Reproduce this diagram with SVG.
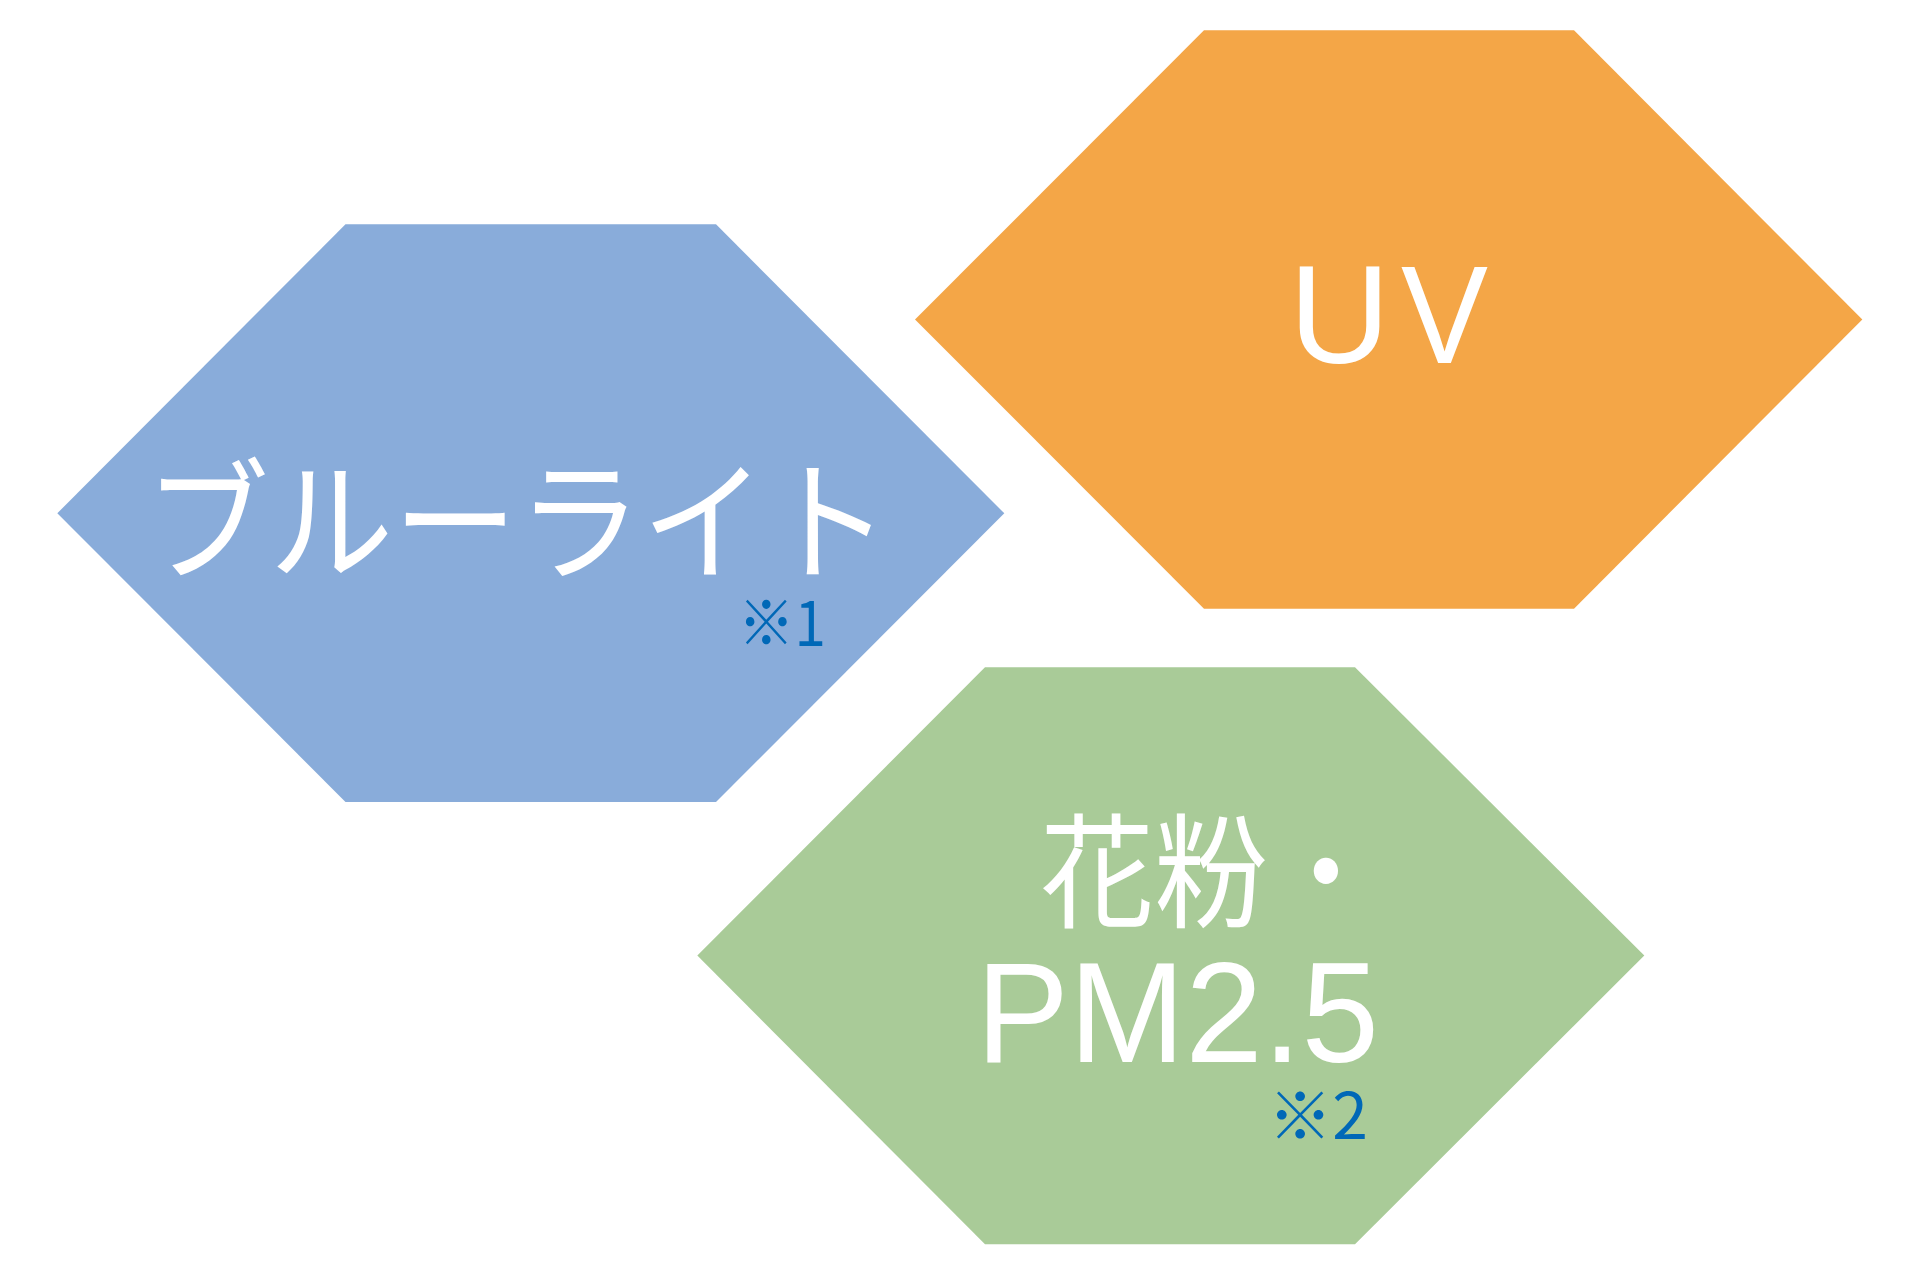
<svg xmlns="http://www.w3.org/2000/svg" width="1920" height="1280" viewBox="0 0 1920 1280">
<style>
.jp{font-family:"Noto Sans CJK JP","Noto Sans",sans-serif;fill:#fff}
.lat{font-family:"Liberation Sans",Arial,sans-serif;fill:#fff}
.note{font-family:"Noto Sans CJK JP","Noto Sans",sans-serif;fill:#0068B7}
</style>
<rect width="1920" height="1280" fill="#fff"/>
<g id="bluelight">
<polygon points="345.5,224.3 716,224.3 1004.3,513.3 716,802 345.5,802 57.3,513.3" fill="#89ACDA"/>
<text class="jp" x="145" y="570" font-size="132" textLength="745" lengthAdjust="spacingAndGlyphs">ブルーライト</text>
<text class="note" x="738" y="646" font-size="62" textLength="88" lengthAdjust="spacingAndGlyphs">※1</text>
</g>
<g id="uv">
<polygon points="1204,30.3 1574,30.3 1862.3,319.5 1574,608.7 1204,608.7 915,319.5" fill="#F4A647"/>
<text class="lat" x="1289" y="363" font-size="140">U</text>
<text class="lat" x="1401" y="363" font-size="140" textLength="87" lengthAdjust="spacingAndGlyphs">V</text>
</g>
<g id="pollen">
<polygon points="985,667.3 1355,667.3 1644.3,955.5 1355,1244.3 985,1244.3 697.3,955.5" fill="#A9CB98"/>
<text class="jp" x="1040" y="918" font-size="124" textLength="343" lengthAdjust="spacingAndGlyphs">花粉・</text>
<text class="lat" x="976" y="1062" font-size="143" textLength="403" lengthAdjust="spacingAndGlyphs">PM2.5</text>
<text class="note" x="1268" y="1139" font-size="64" textLength="100" lengthAdjust="spacingAndGlyphs">※2</text>
</g>
<g id="connectors"/>
</svg>
